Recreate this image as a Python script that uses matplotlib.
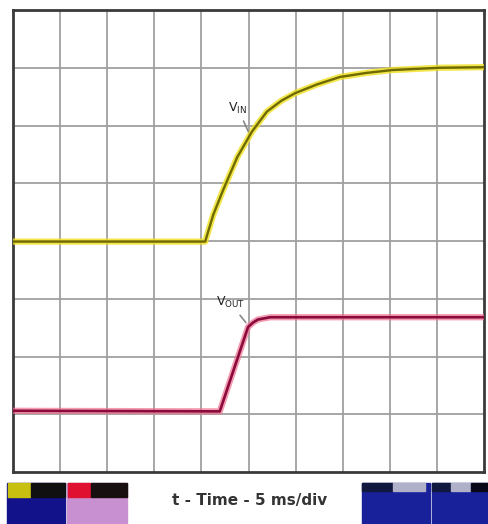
import matplotlib
matplotlib.use("Agg")
import matplotlib.pyplot as plt
from matplotlib.patches import Rectangle

# Data in divisions (x: 10 div of 5 ms, y: 8 div)
vin_t = [0.0, 4.08, 4.25, 4.46, 4.76, 5.07, 5.39, 5.7, 5.99, 6.45, 6.94, 7.5, 8.05, 9.07, 10.0]
vin_v = [3.99, 3.99, 4.45, 4.88, 5.45, 5.89, 6.24, 6.43, 6.56, 6.71, 6.84, 6.91, 6.96, 7.0, 7.01]
vout_t = [0.0, 4.39, 4.99, 5.1, 5.2, 5.46, 10.0]
vout_v = [1.06, 1.05, 2.51, 2.59, 2.64, 2.68, 2.68]
xlabel = "t - Time - 5 ms/div"

fig = plt.figure(figsize=(4.88, 5.24), dpi=100)
ax = fig.add_axes([13/488, 52/524, 471/488, 462/524])
ax.set_xlim(0, 10)
ax.set_ylim(0, 8)
for i in range(1, 10):
    ax.axvline(i, color="#a0a0a0", lw=1.3, zorder=1)
for j in range(1, 8):
    ax.axhline(j, color="#a0a0a0", lw=1.3, zorder=1)
for s in ax.spines.values():
    s.set_color("#3a3a3a")
    s.set_linewidth(2)
ax.set_xticks([])
ax.set_yticks([])

# Traces
ax.plot(vin_t, vin_v, color="#f0e020", lw=4.5, alpha=0.8, zorder=3, solid_joinstyle="round")
ax.plot(vin_t, vin_v, color="#6e6a00", lw=1.7, zorder=4, solid_joinstyle="round")
ax.plot(vout_t, vout_v, color="#f07090", lw=4.5, alpha=0.7, zorder=3, solid_joinstyle="round")
ax.plot(vout_t, vout_v, color="#8a0a3c", lw=1.9, zorder=4, solid_joinstyle="round")

# Labels with leaders
ax.annotate("V$_{\\mathregular{IN}}$", xy=(5.02, 5.85), xytext=(4.57, 6.17),
            fontsize=9, color="#222222", ha="left", va="bottom",
            arrowprops=dict(arrowstyle="-", color="#888888", lw=1.2), zorder=5)
ax.annotate("V$_{\\mathregular{OUT}}$", xy=(4.98, 2.55), xytext=(4.3, 2.8),
            fontsize=9, color="#222222", ha="left", va="bottom",
            arrowprops=dict(arrowstyle="-", color="#888888", lw=1.2), zorder=5)

fig.text(250/488, 1 - 500/524, xlabel, ha="center", va="center",
         fontsize=11, fontweight="bold", color="#333333")

# Scope status boxes (decorative)
def box(x0, y0, x1, y1, color):
    fig.patches.append(Rectangle((x0/488, 1 - y1/524), (x1-x0)/488, (y1-y0)/524,
                                 transform=fig.transFigure, color=color, zorder=0))

box(7, 483, 65, 524, "#12128a")
box(8, 483, 30, 497, "#c8c010")
box(31, 483, 65, 497, "#101010")
box(67, 483, 127, 524, "#c890d0")
box(68, 483, 90, 497, "#e01030")
box(91, 483, 127, 497, "#181010")
box(362, 483, 430, 524, "#18209a")
box(362, 483, 392, 491, "#101840")
box(393, 483, 425, 491, "#b0b0c8")
box(432, 483, 488, 524, "#18209a")
box(432, 483, 450, 491, "#101840")
box(451, 483, 470, 491, "#b0b0c8")
box(471, 483, 488, 491, "#080818")

fig.savefig("out.png", dpi=100)
